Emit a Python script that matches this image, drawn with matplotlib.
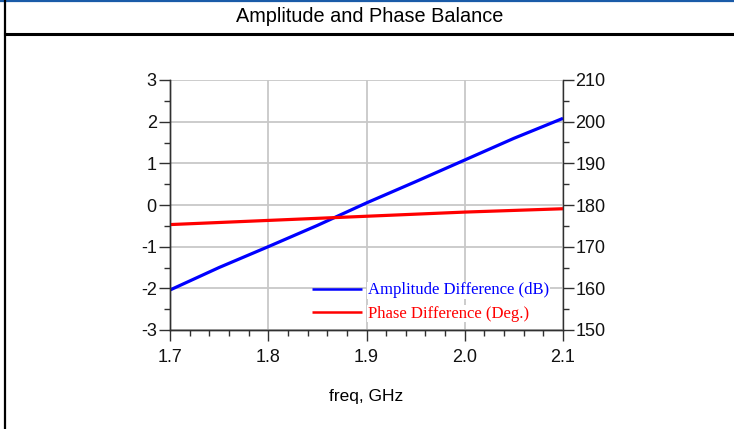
import matplotlib
matplotlib.use("Agg")
import matplotlib.pyplot as plt
from matplotlib.lines import Line2D
from matplotlib.ticker import MultipleLocator, FormatStrFormatter

freq = [1.70, 1.75, 1.80, 1.85, 1.90, 1.95, 2.00, 2.05, 2.10]
amp_diff_db = [-2.04, -1.50, -1.00, -0.49, 0.05, 0.56, 1.08, 1.60, 2.08]
phase_diff_deg = [175.3, 175.8, 176.3, 176.8, 177.3, 177.8, 178.3, 178.7, 179.1]

title = "Amplitude and Phase Balance"
xlabel = "freq, GHz"
amp_label = "Amplitude Difference (dB)"
phase_label = "Phase Difference (Deg.)"

W, H = 734, 429
plt.rcParams['font.family'] = ['Liberation Sans', 'DejaVu Sans']
plt.rcParams['axes.unicode_minus'] = False
fig = plt.figure(figsize=(W / 100, H / 100), dpi=100)

# frame decorations
fig.add_artist(Line2D([0, 1], [1 - 0.8 / H, 1 - 0.8 / H], transform=fig.transFigure,
                      color='#1a5ba8', lw=1.6))
fig.add_artist(Line2D([4.5 / W, 1], [1 - 33.5 / H, 1 - 33.5 / H], transform=fig.transFigure,
                      color='black', lw=2.2))
fig.add_artist(Line2D([5 / W, 5 / W], [0, 1], transform=fig.transFigure,
                      color='black', lw=1.6))
fig.text(370 / W, 1 - 17 / H, title, ha='center', va='center', fontsize=14.3,
         family='Liberation Sans')

x0, x1, y0, y1 = 170, 563, 80, 330
ax = fig.add_axes([x0 / W, 1 - y1 / H, (x1 - x0) / W, (y1 - y0) / H])
ax2 = ax.twinx()

spine_c = '#303030'
ax.plot(freq, amp_diff_db, color='#0000ff', lw=2.3, label=amp_label, solid_capstyle='butt')
ax2.plot(freq, phase_diff_deg, color='#ff0000', lw=2.3, label=phase_label, solid_capstyle='butt')

ax.set_xlim(1.7, 2.1)
ax.set_ylim(-3, 3)
ax2.set_ylim(150, 210)
ax.xaxis.set_major_locator(MultipleLocator(0.1))
ax.xaxis.set_minor_locator(MultipleLocator(0.02))
ax.xaxis.set_major_formatter(FormatStrFormatter('%.1f'))
ax.yaxis.set_major_locator(MultipleLocator(1))
ax.yaxis.set_minor_locator(MultipleLocator(0.5))
ax2.yaxis.set_major_locator(MultipleLocator(10))
ax2.yaxis.set_minor_locator(MultipleLocator(5))

ax.grid(True, which='major', color='#c8c8c8', lw=1.3)
ax.set_axisbelow(True)

for a in (ax, ax2):
    a.spines['top'].set_visible(False)
    for s in ('left', 'right', 'bottom'):
        a.spines[s].set_color(spine_c)
        a.spines[s].set_linewidth(1.0)
    a.tick_params(which='major', length=8, width=1.0, color=spine_c, labelsize=13,
                  direction='out', labelcolor='#111111')
    a.tick_params(which='minor', length=4.3, width=1.0, color=spine_c, direction='out')

ax.tick_params(axis='x', pad=5.5)
ax.tick_params(axis='y', pad=1.5)
ax2.tick_params(axis='y', pad=1.0)
ax.spines['right'].set_visible(False)

ax.set_xlabel(xlabel, fontsize=12.5, labelpad=17)

h1, l1 = ax.get_legend_handles_labels()
h2, l2 = ax2.get_legend_handles_labels()
leg = ax2.legend(h1 + h2, l1 + l2, loc='center left', bbox_to_anchor=(0.361, 0.112),
                 frameon=False, borderpad=0, borderaxespad=0, handlelength=3.0,
                 handletextpad=0.36, labelspacing=0.42, labelcolor='linecolor',
                 prop={'family': 'Liberation Serif', 'size': 12})
for t in leg.get_texts():
    t.set_bbox(dict(facecolor='white', edgecolor='none', pad=0.5))
for ln in leg.get_lines():
    ln.set_linewidth(1.8)

fig.savefig('out.png', dpi=100)
